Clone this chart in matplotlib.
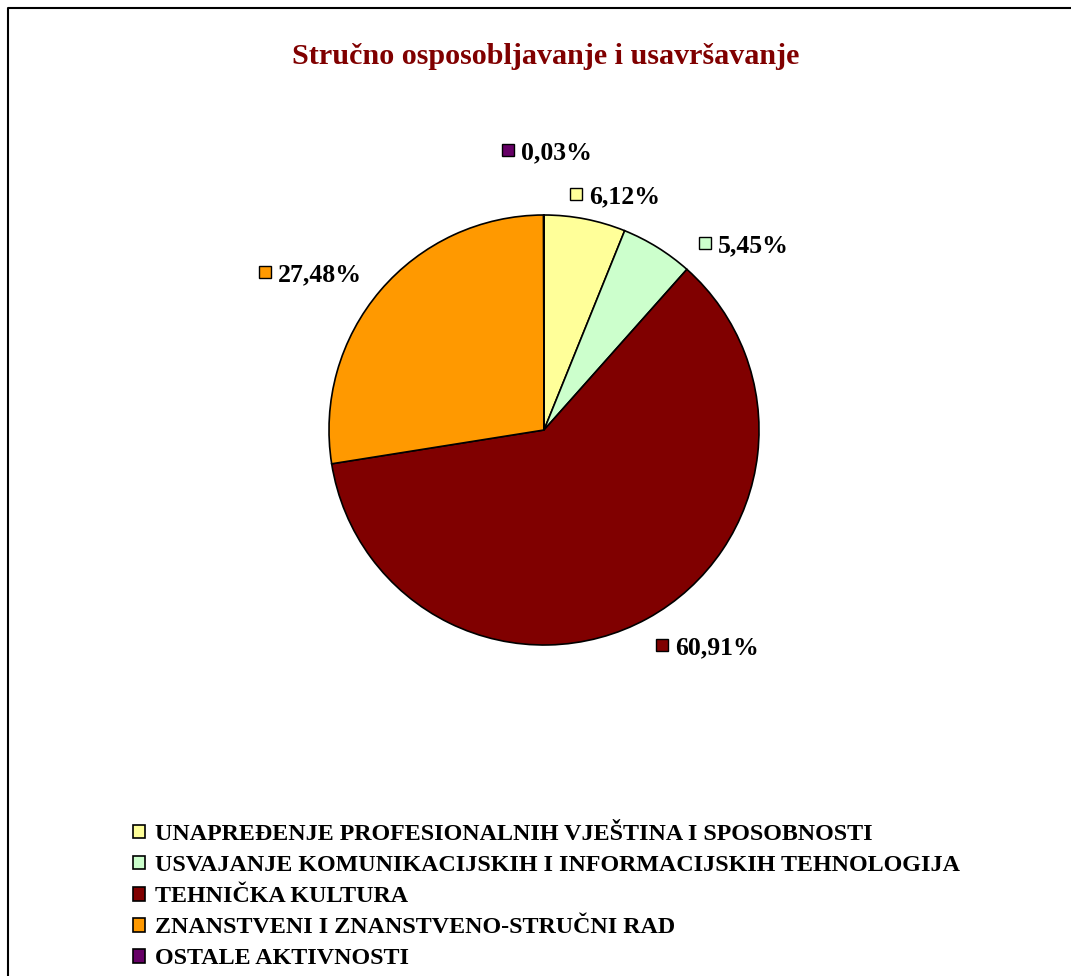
import matplotlib.pyplot as plt
from matplotlib.lines import Line2D

plt.rcParams['font.family'] = ['Liberation Serif', 'DejaVu Serif']
plt.rcParams['font.weight'] = 'bold'

W, H = 1071, 976

categories = ['UNAPREĐENJE PROFESIONALNIH VJEŠTINA I SPOSOBNOSTI',
              'USVAJANJE KOMUNIKACIJSKIH I INFORMACIJSKIH TEHNOLOGIJA',
              'TEHNIČKA KULTURA',
              'ZNANSTVENI I ZNANSTVENO-STRUČNI RAD',
              'OSTALE AKTIVNOSTI']
values = [6.12, 5.45, 60.91, 27.48, 0.03]
labels = ['6,12%', '5,45%', '60,91%', '27,48%', '0,03%']
colors = ['#FFFF99', '#CCFFCC', '#800000', '#FF9900', '#660066']

# label marker-square centres in pixels
label_pos = [(576, 194), (705, 243), (662, 645), (265, 272), (508, 150)]

fig = plt.figure(figsize=(W / 100, H / 100), dpi=100)

cx, cy, r = 544, 430, 215
ax = fig.add_axes([(cx - r) / W, (H - cy - r) / H, 2 * r / W, 2 * r / H])
wedges, _ = ax.pie(values, colors=colors, startangle=90, counterclock=False,
                   radius=1, wedgeprops=dict(edgecolor='black', linewidth=1.2))
ax.set_xlim(-1, 1)
ax.set_ylim(-1, 1)
ax.set_aspect('auto')
ax.axis('off')

for (px, py), lab, col in zip(label_pos, labels, colors):
    fx, fy = px / W, 1 - py / H
    fig.add_artist(Line2D([fx], [fy], marker='s', markersize=9, color=col,
                          markeredgecolor='black', markeredgewidth=1.0,
                          transform=fig.transFigure))
    fig.text((px + 13) / W, fy, lab, fontsize=18.5, fontweight='bold',
             ha='left', va='center_baseline')

fig.text(546 / W, 1 - 57 / H, 'Stručno osposobljavanje i usavršavanje',
         fontsize=21.7, fontweight='bold', color='#800000', ha='center', va='center')

leg = fig.legend(wedges, categories, loc='upper left',
                 bbox_to_anchor=(133 / W, 1 - 824 / H), frameon=False,
                 prop={'family': 'Liberation Serif', 'weight': 'bold', 'size': 17.3},
                 handlelength=0.5, handleheight=0.5, handletextpad=0.42,
                 labelspacing=0.42, borderpad=0, borderaxespad=0)

# chart area border (left and top edges visible)
fig.add_artist(Line2D([8 / W, 8 / W, 1], [0, 1 - 8 / H, 1 - 8 / H],
                      color='black', linewidth=1.5, transform=fig.transFigure))

fig.savefig('out.png', dpi=100)
